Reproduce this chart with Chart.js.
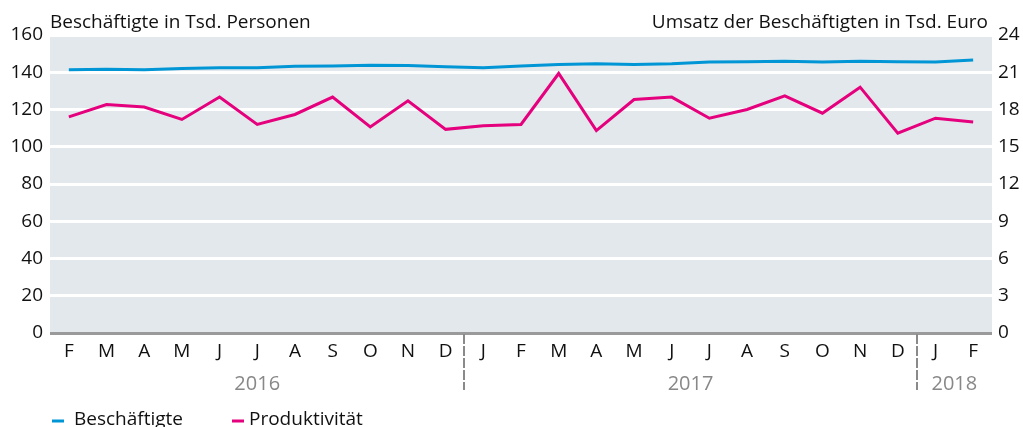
<!DOCTYPE html>
<html>
<head>
<meta charset="utf-8">
<script src="https://cdn.jsdelivr.net/npm/chart.js@4"></script>
<style>
  html, body { margin: 0; padding: 0; background: #fff; }
  #wrap { width: 1023px; height: 427px; }
</style>
</head>
<body>
<div id="wrap"><canvas id="chart" width="1023" height="427"></canvas></div>
<script>
const months = ["F","M","A","M","J","J","A","S","O","N","D","J","F","M","A","M","J","J","A","S","O","N","D","J","F"];
const beschaeftigte = [141.3,141.6,141.3,142.0,142.4,142.4,143.2,143.4,143.8,143.6,142.9,142.4,143.4,144.2,144.6,144.2,144.5,145.5,145.7,145.9,145.5,145.9,145.7,145.5,146.6];
const produktivitaet = [17.4,18.4,18.2,17.2,19.0,16.8,17.6,19.0,16.6,18.7,16.4,16.7,16.8,20.9,16.3,18.8,19.0,17.3,18.0,19.1,17.7,19.8,16.1,17.3,17.0];
const yearLabels = ["2016","2017","2018"];
const yearFirst = [0, 11, 23];
const yearLast = [10, 22, 24];
const leftTitle = "Beschäftigte in Tsd. Personen";
const rightTitle = "Umsatz der Beschäftigten in Tsd. Euro";

const blue = "#0096d6";
const pink = "#e5007d";
const font = "'Source Sans Pro', 'Open Sans', sans-serif";

const extras = {
    id: "extras",
    beforeDraw(chart) {
        const a = chart.chartArea, c = chart.ctx;
        c.save();
        c.fillStyle = "#e3e8ec";
        c.fillRect(a.left, a.top, a.right - a.left, a.bottom - a.top);
        c.restore();
    },
    afterDraw(chart) {
        const a = chart.chartArea, c = chart.ctx, x = chart.scales.x;
        const step = x.getPixelForValue(1) - x.getPixelForValue(0);
        c.save();
        // year dividers
        c.strokeStyle = "#8a8a8a";
        c.lineWidth = 2;
        c.setLineDash([10, 2]);
        for (let i = 1; i < yearFirst.length; i++) {
            const px = Math.round(x.getPixelForValue(yearFirst[i]) - step / 2);
            c.beginPath();
            c.moveTo(px, a.bottom + 1);
            c.lineTo(px, a.bottom + 57);
            c.stroke();
        }
        c.setLineDash([]);
        // year labels
        c.fillStyle = "#888";
        c.font = "20px " + font;
        c.textAlign = "center";
        c.textBaseline = "middle";
        for (let i = 0; i < yearLabels.length; i++) {
            const px = (x.getPixelForValue(yearFirst[i]) + x.getPixelForValue(yearLast[i])) / 2;
            c.fillText(yearLabels[i], px, a.bottom + 51);
        }
        // axis titles
        c.fillStyle = "#111";
        c.font = "19px " + font;
        c.textBaseline = "alphabetic";
        c.textAlign = "left";
        c.fillText(leftTitle, a.left, 28);
        c.textAlign = "right";
        c.fillText(rightTitle, a.right - 4, 28);
        // legend
        const items = [[blue, a.left + 2], [pink, a.left + 182]];
        items.forEach(function (it) {
            c.strokeStyle = it[0];
            c.lineWidth = 3;
            c.beginPath();
            c.moveTo(it[1], 421);
            c.lineTo(it[1] + 12, 421);
            c.stroke();
        });
        c.textAlign = "left";
        c.textBaseline = "middle";
        c.fillStyle = "#111";
        c.fillText("Beschäftigte", a.left + 24, 420);
        c.fillText("Produktivität", a.left + 199, 420);
        c.restore();
    }
};

new Chart(document.getElementById("chart").getContext("2d"), {
    type: "line",
    data: {
        labels: months,
        datasets: [
            { label: "Beschäftigte", data: beschaeftigte, yAxisID: "y", borderColor: blue, borderWidth: 3, pointRadius: 0, tension: 0 },
            { label: "Produktivität", data: produktivitaet, yAxisID: "y1", borderColor: pink, borderWidth: 3, pointRadius: 0, tension: 0 }
        ]
    },
    options: {
        responsive: false,
        animation: false,
        layout: { padding: { top: 35, left: 0, right: 0, bottom: 0 } },
        plugins: { legend: { display: false }, tooltip: { enabled: false } },
        scales: {
            x: {
                offset: true,
                grid: { display: false, drawTicks: false },
                border: { display: false },
                ticks: { color: "#111", font: { size: 19, family: font }, padding: 7, maxRotation: 0, autoSkip: false },
                afterFit(s) { s.height = 94; }
            },
            y: {
                position: "left",
                min: 0, max: 160,
                ticks: { stepSize: 20, color: "#111", font: { size: 19, family: font }, padding: 7 },
                grid: {
                    drawTicks: false,
                    lineWidth: 3,
                    color(ctx) { return ctx.tick && ctx.tick.value === 0 ? "#9a9a9a" : "#ffffff"; }
                },
                border: { display: false },
                afterFit(s) { s.width = 50; }
            },
            y1: {
                position: "right",
                min: 0, max: 24,
                ticks: { stepSize: 3, color: "#111", font: { size: 19, family: font }, padding: 6 },
                grid: { display: false, drawTicks: false },
                border: { display: false },
                afterFit(s) { s.width = 31; }
            }
        }
    },
    plugins: [extras]
});
</script>
</body>
</html>
